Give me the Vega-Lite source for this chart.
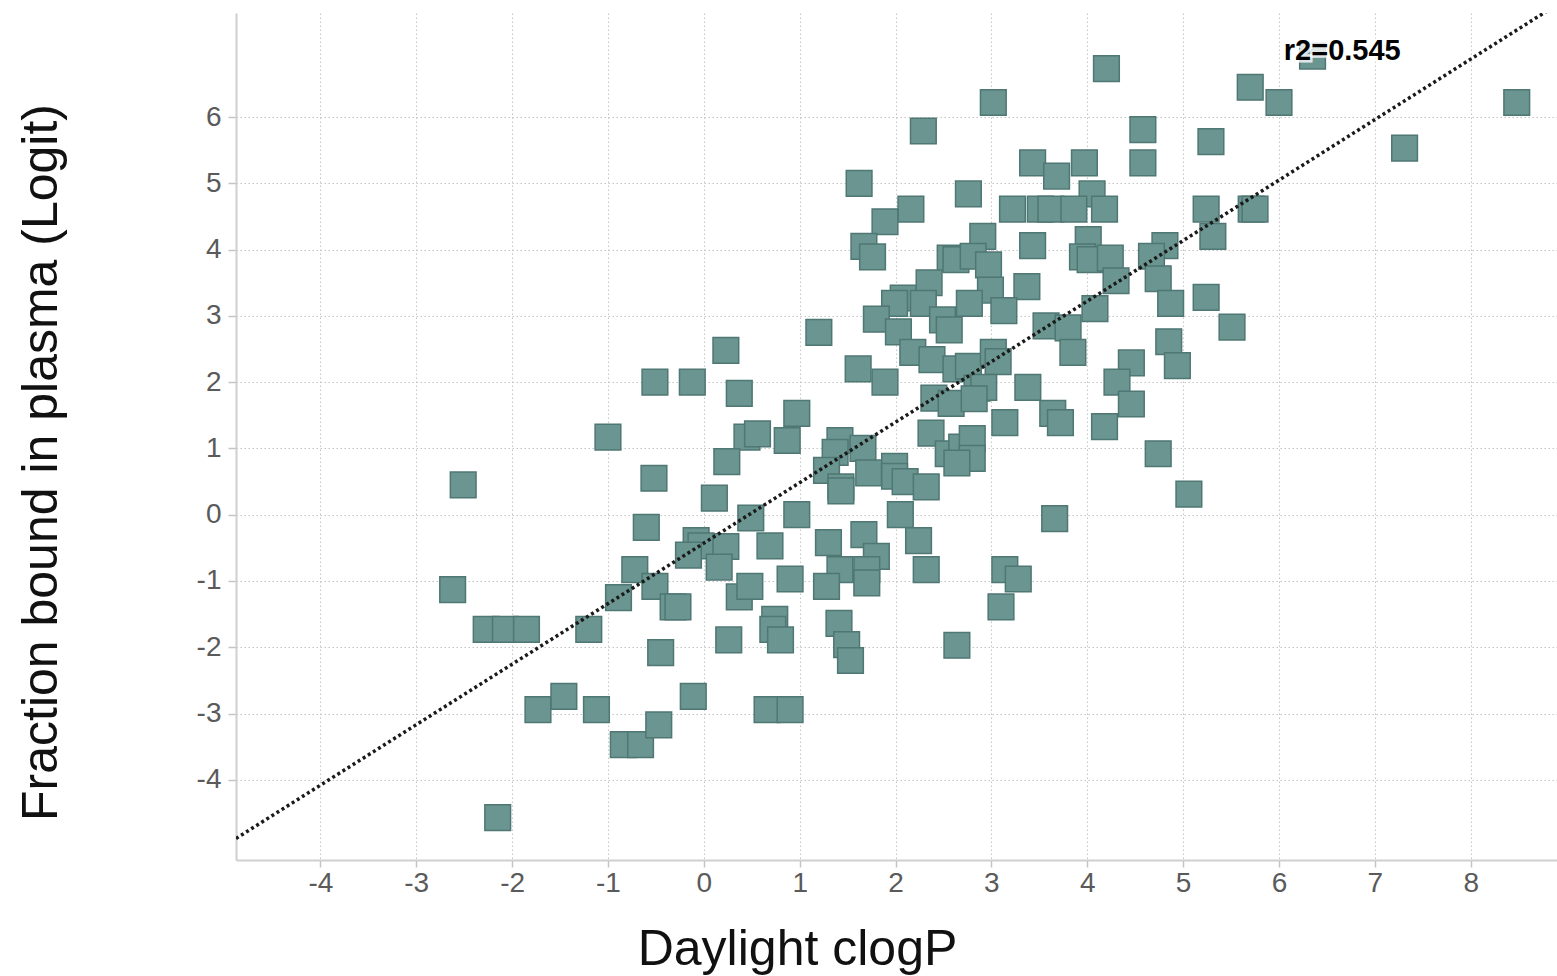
{
"$schema": "https://vega.github.io/schema/vega-lite/v6.json",
"width": 1321, "height": 847,
"autosize": "none",
"padding": {"left": 236, "top": 13, "right": 0, "bottom": 116},
"background": "white",
"config": {"view": {"stroke": null}, "font": "Liberation Sans"},
"datasets": {
"points": [
{"clogP":4.20,"logit":6.73},{"clogP":6.35,"logit":6.92},{"clogP":5.70,"logit":6.45},{"clogP":6.00,"logit":6.22},{"clogP":3.02,"logit":6.22},{"clogP":8.48,"logit":6.22},{"clogP":2.29,"logit":5.79},{"clogP":4.58,"logit":5.81},{"clogP":5.29,"logit":5.63},{"clogP":7.31,"logit":5.53},
{"clogP":1.62,"logit":5.00},{"clogP":3.43,"logit":5.31},{"clogP":3.68,"logit":5.11},{"clogP":3.97,"logit":5.31},{"clogP":4.58,"logit":5.31},{"clogP":2.76,"logit":4.84},{"clogP":4.05,"logit":4.84},{"clogP":2.16,"logit":4.61},{"clogP":3.22,"logit":4.61},{"clogP":3.51,"logit":4.61},
{"clogP":3.62,"logit":4.61},{"clogP":3.86,"logit":4.61},{"clogP":4.18,"logit":4.61},{"clogP":5.24,"logit":4.61},{"clogP":5.71,"logit":4.61},{"clogP":5.75,"logit":4.61},{"clogP":1.89,"logit":4.42},{"clogP":2.91,"logit":4.20},{"clogP":5.31,"logit":4.20},{"clogP":1.67,"logit":4.05},
{"clogP":1.76,"logit":3.89},{"clogP":3.43,"logit":4.06},{"clogP":4.01,"logit":4.15},{"clogP":3.95,"logit":3.89},{"clogP":4.03,"logit":3.85},{"clogP":4.24,"logit":3.87},{"clogP":4.81,"logit":4.06},{"clogP":4.67,"logit":3.90},{"clogP":2.57,"logit":3.87},{"clogP":2.63,"logit":3.85},
{"clogP":2.81,"logit":3.90},{"clogP":2.97,"logit":3.77},{"clogP":2.35,"logit":3.50},{"clogP":2.99,"logit":3.39},{"clogP":3.37,"logit":3.44},{"clogP":4.30,"logit":3.53},{"clogP":4.74,"logit":3.56},{"clogP":2.08,"logit":3.27},{"clogP":1.99,"logit":3.19},{"clogP":2.29,"logit":3.19},
{"clogP":2.77,"logit":3.19},{"clogP":3.13,"logit":3.08},{"clogP":4.08,"logit":3.11},{"clogP":4.87,"logit":3.19},{"clogP":5.24,"logit":3.28},{"clogP":1.80,"logit":2.95},{"clogP":2.03,"logit":2.76},{"clogP":2.49,"logit":2.94},{"clogP":2.56,"logit":2.79},{"clogP":1.20,"logit":2.75},
{"clogP":3.57,"logit":2.85},{"clogP":3.80,"logit":2.82},{"clogP":5.51,"logit":2.83},{"clogP":3.85,"logit":2.45},{"clogP":4.85,"logit":2.61},{"clogP":4.94,"logit":2.25},{"clogP":2.18,"logit":2.45},{"clogP":2.38,"logit":2.34},{"clogP":2.63,"logit":2.20},{"clogP":2.76,"logit":2.24},
{"clogP":3.02,"logit":2.45},{"clogP":3.07,"logit":2.31},{"clogP":1.61,"logit":2.20},{"clogP":1.89,"logit":2.00},{"clogP":3.38,"logit":1.92},{"clogP":4.46,"logit":2.29},{"clogP":4.31,"logit":2.00},{"clogP":4.46,"logit":1.67},{"clogP":3.64,"logit":1.53},{"clogP":3.72,"logit":1.39},
{"clogP":3.14,"logit":1.39},{"clogP":4.18,"logit":1.33},{"clogP":4.74,"logit":0.92},{"clogP":5.06,"logit":0.31},{"clogP":3.66,"logit":-0.06},{"clogP":2.40,"logit":1.76},{"clogP":2.58,"logit":1.68},{"clogP":2.85,"logit":1.91},{"clogP":2.92,"logit":1.92},{"clogP":2.82,"logit":1.75},
{"clogP":2.37,"logit":1.23},{"clogP":2.55,"logit":0.92},{"clogP":2.69,"logit":1.02},{"clogP":2.80,"logit":1.15},{"clogP":2.80,"logit":0.85},{"clogP":2.64,"logit":0.78},{"clogP":1.42,"logit":1.12},{"clogP":1.37,"logit":0.94},{"clogP":1.28,"logit":0.67},{"clogP":1.66,"logit":1.00},
{"clogP":1.72,"logit":0.63},{"clogP":1.99,"logit":0.73},{"clogP":1.99,"logit":0.58},{"clogP":2.10,"logit":0.50},{"clogP":2.32,"logit":0.42},{"clogP":1.43,"logit":0.42},{"clogP":1.43,"logit":0.36},{"clogP":0.97,"logit":0.00},{"clogP":2.05,"logit":0.00},{"clogP":1.30,"logit":-0.42},
{"clogP":1.67,"logit":-0.30},{"clogP":1.80,"logit":-0.63},{"clogP":2.24,"logit":-0.39},{"clogP":1.42,"logit":-0.83},{"clogP":1.70,"logit":-0.83},{"clogP":1.70,"logit":-1.03},{"clogP":1.28,"logit":-1.08},{"clogP":0.90,"logit":-0.97},{"clogP":2.32,"logit":-0.83},{"clogP":3.14,"logit":-0.83},
{"clogP":3.28,"logit":-0.97},{"clogP":3.10,"logit":-1.39},{"clogP":1.41,"logit":-1.64},{"clogP":1.49,"logit":-1.96},{"clogP":1.53,"logit":-2.20},{"clogP":2.64,"logit":-1.97},{"clogP":0.74,"logit":-1.58},{"clogP":0.72,"logit":-1.73},{"clogP":0.80,"logit":-1.89},{"clogP":0.23,"logit":2.48},
{"clogP":-0.51,"logit":2.00},{"clogP":-0.12,"logit":2.00},{"clogP":0.37,"logit":1.83},{"clogP":0.97,"logit":1.53},{"clogP":0.45,"logit":1.17},{"clogP":0.56,"logit":1.22},{"clogP":0.87,"logit":1.12},{"clogP":-1.00,"logit":1.17},{"clogP":0.24,"logit":0.80},{"clogP":-0.52,"logit":0.55},
{"clogP":-2.51,"logit":0.45},{"clogP":0.11,"logit":0.25},{"clogP":0.49,"logit":-0.05},{"clogP":-0.60,"logit":-0.19},{"clogP":-0.08,"logit":-0.39},{"clogP":-0.03,"logit":-0.47},{"clogP":-0.16,"logit":-0.61},{"clogP":0.23,"logit":-0.48},{"clogP":0.16,"logit":-0.79},{"clogP":0.69,"logit":-0.47},
{"clogP":-0.72,"logit":-0.83},{"clogP":-0.51,"logit":-1.08},{"clogP":-0.89,"logit":-1.25},{"clogP":-0.32,"logit":-1.39},{"clogP":-0.27,"logit":-1.39},{"clogP":0.37,"logit":-1.24},{"clogP":0.48,"logit":-1.08},{"clogP":-2.62,"logit":-1.13},{"clogP":-2.27,"logit":-1.73},{"clogP":-2.07,"logit":-1.73},
{"clogP":-1.85,"logit":-1.73},{"clogP":-1.20,"logit":-1.73},{"clogP":-0.45,"logit":-2.08},{"clogP":0.26,"logit":-1.89},{"clogP":-1.73,"logit":-2.94},{"clogP":-1.46,"logit":-2.74},{"clogP":-1.12,"logit":-2.94},{"clogP":-0.11,"logit":-2.74},{"clogP":0.66,"logit":-2.94},{"clogP":0.90,"logit":-2.94},
{"clogP":-0.84,"logit":-3.47},{"clogP":-0.66,"logit":-3.47},{"clogP":-0.47,"logit":-3.17},{"clogP":-2.15,"logit":-4.57}
],
"fit": [{"clogP": -4.88, "logit": -4.885}, {"clogP": 8.9, "logit": 7.696}],
"note": [{"label": "r2=0.545"}]
},
"layer": [
{
"data": {"name": "points"},
"mark": {"type": "point", "shape": "square", "filled": true, "size": 660, "fill": "#6a9590", "stroke": "#4f7773", "strokeWidth": 1.5, "opacity": 1},
"encoding": {
"x": {"field": "clogP", "type": "quantitative",
"scale": {"domain": [-4.88, 8.9], "nice": false, "zero": false},
"axis": {"values": [-4,-3,-2,-1,0,1,2,3,4,5,6,7,8], "labelExpr": "'' + datum.value",
"grid": true, "gridDash": [1.5, 2.5], "gridColor": "#c4c4c4", "gridWidth": 1,
"domainColor": "#cfcfcf", "domainWidth": 2, "tickColor": "#c4c4c4", "tickSize": 7, "tickWidth": 1.5,
"labelFontSize": 28, "labelColor": "#5a5a5a", "labelPadding": 2, "labelFont": "Liberation Sans",
"title": "Daylight clogP", "titleFontSize": 50, "titleFontWeight": "normal", "titleColor": "#111111", "titleFont": "Liberation Sans",
"titleX": 561, "titleY": 104, "titleAlign": "center", "titleBaseline": "alphabetic"}},
"y": {"field": "logit", "type": "quantitative",
"scale": {"domain": [-5.21, 7.57], "nice": false, "zero": false},
"axis": {"values": [-4,-3,-2,-1,0,1,2,3,4,5,6], "labelExpr": "'' + datum.value",
"grid": true, "gridDash": [1.5, 2.5], "gridColor": "#c4c4c4", "gridWidth": 1,
"domainColor": "#cfcfcf", "domainWidth": 2, "tickColor": "#c4c4c4", "tickSize": 8, "tickWidth": 1.5,
"labelFontSize": 28, "labelColor": "#5a5a5a", "labelPadding": 7, "labelFont": "Liberation Sans",
"title": "Fraction bound in plasma (Logit)", "titleFontSize": 50, "titleFontWeight": "normal", "titleColor": "#111111", "titleFont": "Liberation Sans",
"titleAngle": -90, "titleX": -180, "titleY": 449, "titleAlign": "center", "titleBaseline": "alphabetic"}}
}
},
{
"data": {"name": "fit"},
"mark": {"type": "line", "strokeDash": [3, 3], "strokeWidth": 3.5, "color": "#1a1a1a", "clip": true},
"encoding": {
"x": {"field": "clogP", "type": "quantitative"},
"y": {"field": "logit", "type": "quantitative"}
}
},
{
"data": {"name": "note"},
"mark": {"type": "text", "align": "left", "baseline": "alphabetic", "fontSize": 29, "fontWeight": "bold", "font": "Liberation Sans", "color": "#ffffff", "stroke": "#ffffff", "strokeWidth": 5, "strokeOpacity": 0.8},
"encoding": {
"x": {"datum": 6.05},
"y": {"datum": 6.864},
"text": {"field": "label"}
}
},
{
"data": {"name": "note"},
"mark": {"type": "text", "align": "left", "baseline": "alphabetic", "fontSize": 29, "fontWeight": "bold", "font": "Liberation Sans", "color": "#000000"},
"encoding": {
"x": {"datum": 6.05},
"y": {"datum": 6.864},
"text": {"field": "label"}
}
}
]
}
